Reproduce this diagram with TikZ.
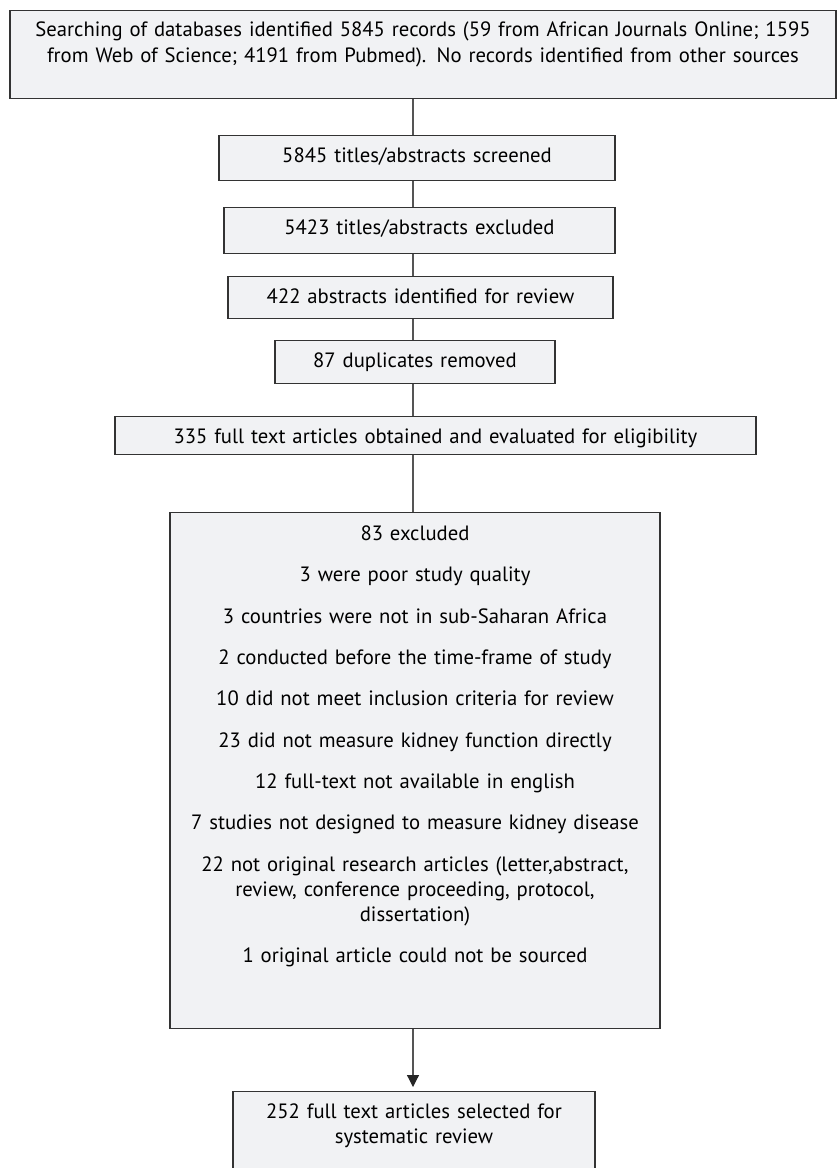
\documentclass[tikz,border=0pt]{standalone}
\usepackage{fontspec}
\setmainfont{PT Sans}
\usepackage{tikz}
\usetikzlibrary{arrows.meta,positioning}
\definecolor{boxfill}{HTML}{F1F2F4}
\definecolor{boxline}{HTML}{333333}
\definecolor{linkline}{HTML}{555555}
\tikzset{
  stage/.style={draw=boxline,line width=1.3pt,fill=boxfill,align=center,anchor=north,
    inner xsep=0pt,inner ysep=6pt,font=\fontsize{20.7}{25}\selectfont},
  link/.style={draw=linkline,line width=1.2pt},
}
\begin{document}
\begin{tikzpicture}[x=1pt,y=-1pt]
\useasboundingbox (0,0) rectangle (837,1168);
%Alle Kaesten haengen an einer senkrechten Linie bei x=413
  \pgfmathsetmacro{\spineX}{413}
\coordinate (spine) at (\spineX,0);
\node[stage,text width=826pt,text height=20pt,text depth=56pt,font=\fontsize{20.7}{26}\selectfont] (search) at (423,10)
  {Searching of databases identified 5845 records (59 from African Journals Online; 1595\\
   from Web of Science; 4191 from Pubmed). No records identified from other sources};
\node[stage,text width=396pt,text height=20.7pt,text depth=12.3pt] (screened) at (417,135) {5845 titles/abstracts screened};
\node[stage,text width=391pt,text height=21.3pt,text depth=12.7pt] (excludedA) at (419.5,207) {5423 titles/abstracts excluded};
\node[stage,text width=385pt,text height=20.7pt,text depth=9.3pt] (review) at (420.5,276) {422 abstracts identified for review};
\node[stage,text width=280pt,text height=21.3pt,text depth=9.7pt] (dupl) at (415,340) {87 duplicates removed};
\node[stage,text width=641pt,text height=21.3pt,text depth=4.7pt] (fulltext) at (435.5,416) {335 full text articles obtained and evaluated for eligibility};
%Ausschlussgruende
\node[stage,text width=490pt,text height=22pt,text depth=482pt] (excludedB) at (415,512)
  {83 excluded\\[16.3pt]
   3 were poor study quality\\[16.3pt]
   3 countries were not in sub-Saharan Africa\\[16.3pt]
   2 conducted before the time-frame of study\\[16.3pt]
   10 did not meet inclusion criteria for review\\[16.3pt]
   23 did not measure kidney function directly\\[16.3pt]
   12 full-text not available in english\\[16.3pt]
   7 studies not designed to measure kidney disease\\[16.3pt]
   22 not original research articles (letter,abstract,\\
   review, conference proceeding, protocol,\\
   dissertation)\\[16.3pt]
   1 original article could not be sourced};
\node[stage,text width=362pt,text height=21.3pt,text depth=55.7pt] (selected) at (414,1091)
  {252 full text articles selected for\\ systematic review};
\draw[link] (search.south -| spine) -- (screened.north -| spine);
\draw[link] (screened.south -| spine) -- (excludedA.north -| spine);
\draw[link] (excludedA.south -| spine) -- (review.north -| spine);
\draw[link] (review.south -| spine) -- (dupl.north -| spine);
\draw[link] (dupl.south -| spine) -- (fulltext.north -| spine);
\draw[link] (fulltext.south -| spine) -- (excludedB.north -| spine);
\draw[link,-{Triangle[width=12pt,length=12pt,color=black!85]},shorten >=4pt] (excludedB.south -| spine) -- (selected.north -| spine);
\end{tikzpicture}
\end{document}
